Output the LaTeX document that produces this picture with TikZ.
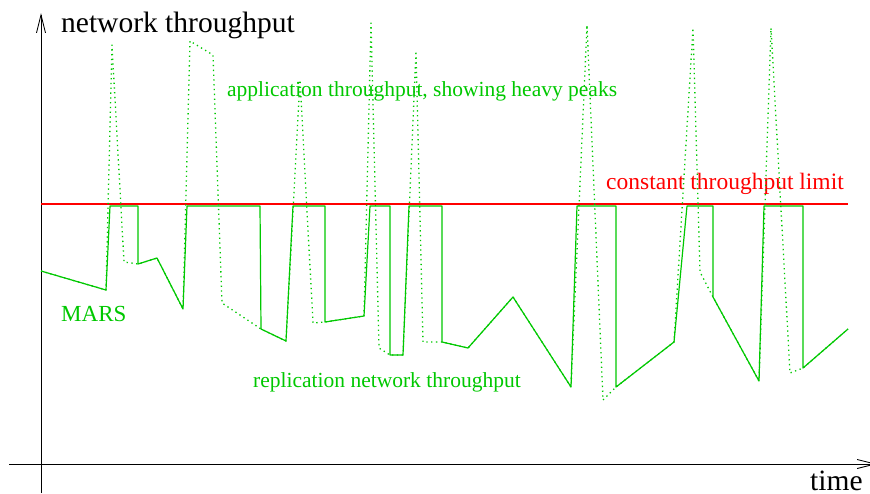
\documentclass[tikz,border=0pt]{standalone}
\usepackage{fontspec}
\setmainfont{Liberation Serif}
\usepackage{xcolor}
\usepackage{tikz}
\usetikzlibrary{arrows.meta}
\definecolor{tputgreen}{RGB}{0,200,0}
\definecolor{limitred}{RGB}{255,0,0}

\begin{document}
\begin{tikzpicture}[x=1pt, y=-1pt, line join=round,
    lbl/.style={anchor=base west, inner sep=0pt},
    axis/.style={line width=0.9pt, -{Straight Barb[length=18pt, width=9pt]}}]
    \useasboundingbox (0,0) rectangle (870,493);

    % Axes
    \draw [axis] (41,493) -- (41,13);
    \draw [axis] (9,464) -- (877,464);

    % Axis labels
    \node [lbl, font=\fontsize{29.5}{30}\selectfont] (ytitle) at (61,32) {network throughput};
    \node [lbl, font=\fontsize{29.5}{30}\selectfont] (xtitle) at (810,490) {time};

    % Throughput limit
    \draw [limitred, line width=1.2pt] (41,204) -- (848,204);
    \node [lbl, limitred, font=\fontsize{23.5}{24}\selectfont] (limit) at (606,189) {constant throughput limit};

    % Application throughput (dotted)
    \draw [tputgreen, line width=1.3pt, dash pattern=on 1.3pt off 3.5pt] plot coordinates {
        (41,271) (106,290) (112,45) (124,262) (138,264) (157,258) (183,309)
        (190,41) (213,55) (222,303) (261,329) (286,341) (300,80) (313,323)
        (325,322) (364,316) (371,23) (379,348) (390,355) (403,355) (416,51)
        (423,342) (442,342) (468,348) (513,297) (571,387) (587,25) (603,400)
        (616,387) (674,342) (693,28) (700,272) (713,297) (759,381) (771,28)
        (790,373) (803,368) (848,329)};

    % Replication network throughput (solid)
    \draw [tputgreen, line width=1.2pt] plot coordinates {
        (41,271) (106,290) (110,206) (138,206) (138,264) (157,258) (183,309)
        (187,206) (260,206) (261,329) (286,341) (293,206) (325,206) (325,322)
        (364,316) (370,206) (390,206) (390,355) (403,355) (409,206) (442,206)
        (442,342) (468,348) (513,297) (571,387) (577,206) (616,206) (616,387)
        (674,342) (687,206) (713,206) (713,297) (759,381) (764,206) (803,206)
        (803,368) (848,329)};

    % Curve labels
    \node [lbl, tputgreen, font=\fontsize{21.5}{22}\selectfont] (applabel) at (227,96) {application throughput, showing heavy peaks};
    \node [lbl, tputgreen, font=\fontsize{23}{24}\selectfont] (mars) at (61,321) {MARS};
    \node [lbl, tputgreen, font=\fontsize{21.5}{22}\selectfont] (replabel) at (253,387) {replication network throughput};

\end{tikzpicture}
\end{document}
